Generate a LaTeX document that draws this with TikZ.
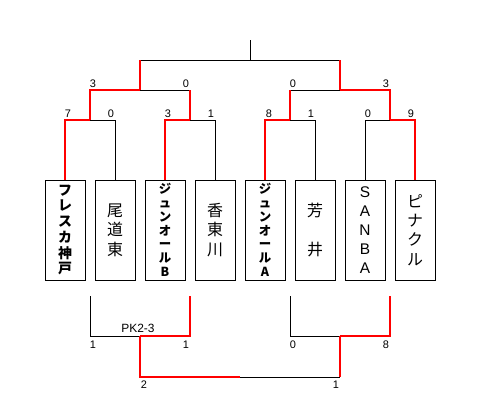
\documentclass[tikz,border=0pt]{standalone}
\usepackage{fontspec}
\setmainfont{Liberation Sans}
\newfontfamily\jp{Noto Sans CJK JP}
\usetikzlibrary{positioning}
\definecolor{winred}{RGB}{255,0,0}
\colorlet{bracketline}{black}

\begin{document}
\begin{tikzpicture}[x=1bp,y=-1bp,
    team/.style={draw,line width=.8bp,minimum width=40bp,minimum height=100bp,
      inner sep=0pt,outer sep=0pt,align=center},
    jpbig/.style={font=\jp\fontsize{16}{19.5}\selectfont},
    jpbold/.style={font=\jp\bfseries\fontsize{14}{15.8}\selectfont},
    jpsmall/.style={font=\jp\bfseries\fontsize{12.5}{13.8}\selectfont},
    lose/.style={draw=bracketline,line width=.8bp},
    win/.style={draw=winred,line width=2bp},
    score/.style={font=\fontsize{11}{11}\selectfont,inner sep=0pt,anchor=base}]
  \useasboundingbox (0,0) rectangle (500,413);

  % teams
  \node[team,jpbold] (t1) at (65,230) {フ\\レ\\ス\\カ\\神\\戸};
  \node[team,jpbig,right=10bp of t1] (t2) {尾\\道\\東};
  \node[team,jpsmall,right=10bp of t2] (t3) {ジ\\ュ\\ン\\オ\\ー\\ル\\B};
  \node[team,jpbig,right=10bp of t3] (t4) {香\\東\\川};
  \node[team,jpsmall,right=10bp of t4] (t5) {ジ\\ュ\\ン\\オ\\ー\\ル\\A};
  \node[team,jpbig,right=10bp of t5] (t6) {芳\\ \\井};
  \node[team,font=\fontsize{15.5}{19}\selectfont,right=10bp of t6] (t7) {S\\A\\N\\B\\A};
  \node[team,jpbig,right=10bp of t7] (t8) {ピ\\ナ\\ク\\ル};

  % junctions
  \coordinate (a1) at (90,120);
  \coordinate (a2) at (190,120);
  \coordinate (a3) at (290,120);
  \coordinate (a4) at (390,120);
  \coordinate (b1) at (140,90);
  \coordinate (b2) at (340,90);
  \coordinate (c) at (250,60);
  \coordinate (top) at (250,40);

  % losers
  \draw[lose] (t2.north) |- (a1);
  \draw[lose] (t4.north) |- (a2);
  \draw[lose] (t6.north) |- (a3);
  \draw[lose] (t7.north) |- (a4);
  \draw[lose] (a2 |- b1) -- (b1);
  \draw[lose] (a3 |- b2) -- (b2);
  \draw[lose] (b1 |- c) -- (b2 |- c);
  \draw[lose] (c) -- (top);

  % winners
  \draw[win] (t1.north) |- (a1);
  \draw[win] (t3.north) |- (a2);
  \draw[win] (t5.north) |- (a3);
  \draw[win] (t8.north) |- (a4);
  \draw[win] (a1) |- (b1);
  \draw[win] (a2) -- (a2 |- b1);
  \draw[win] (a3) -- (a3 |- b2);
  \draw[win] (a4) |- (b2);
  \draw[win] (b1) -- (b1 |- c);
  \draw[win] (b2) -- (b2 |- c);

  % scores
  \foreach \n/\x/\y/\s in {r1/68/117/7, r2/111/117/0, r3/168/117/3, r4/211/117/1,
      r5/269/117/8, r6/311/117/1, r7/368/117/0, r8/411/117/9,
      q1/93/87/3, q2/186/87/0, q3/293/87/0, q4/386/87/3}
    \node[score] (\n) at (\x,\y) {\s};

  % lower bracket
  \coordinate (p1) at (90,296);
  \coordinate (p2) at (190,296);
  \coordinate (p3) at (290,296);
  \coordinate (p4) at (390,296);
  \coordinate (d1) at (140,336);
  \coordinate (d2) at (340,336);
  \coordinate (f1) at (140,377);
  \coordinate (fm) at (240,377);
  \coordinate (f2) at (340,377);
  \draw[lose] (p1) |- (d1);
  \draw[lose] (p3) |- (d2);
  \draw[lose] (fm) -- (f2);
  \draw[win] (p2) |- (d1);
  \draw[win] (p4) |- (d2);
  \draw[win] (d1) -- (f1) -- (fm);
  \draw[win] (d2) -- (f2);

  \node[score,font=\fontsize{12}{12}\selectfont] (pk) at (138,332) {PK2-3};
  \foreach \n/\x/\y/\s in {u1/93/348/1, u2/186/348/1, u3/293/348/0, u4/386/348/8,
      v1/144/388/2, v2/336/388/1}
    \node[score] (\n) at (\x,\y) {\s};
\end{tikzpicture}
\end{document}
